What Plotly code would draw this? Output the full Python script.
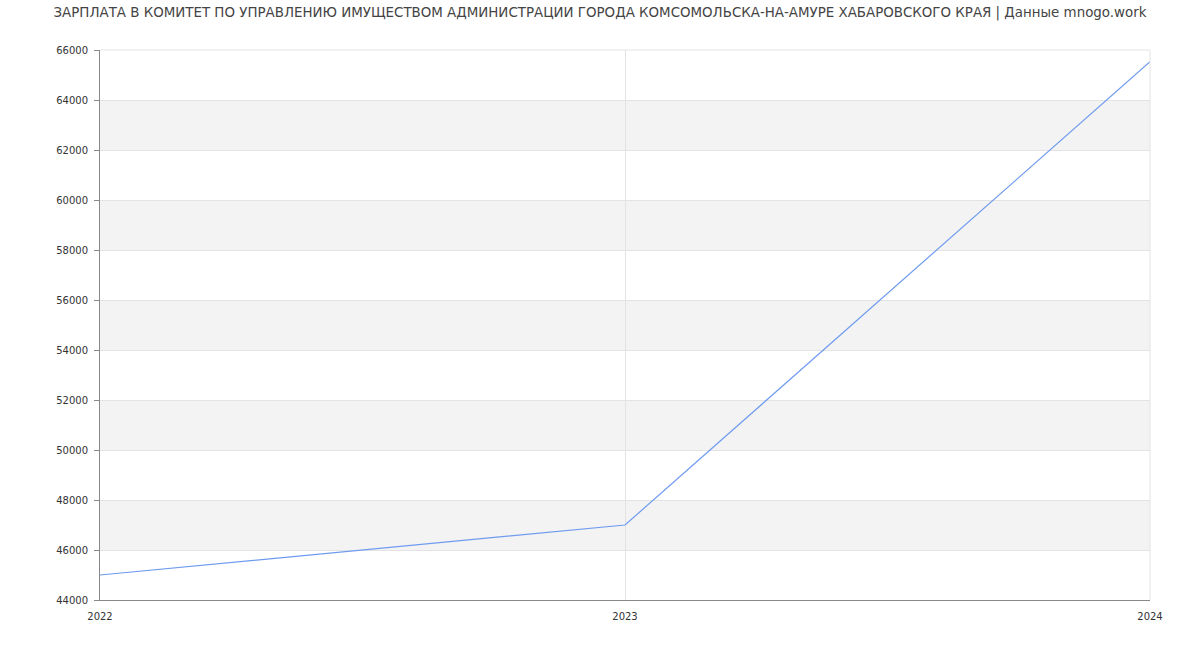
import plotly.graph_objects as go

years = [2022, 2023, 2024]
salaries = [45000, 47000, 65530]
y_ticks = list(range(44000, 66001, 2000))
title = "ЗАРПЛАТА В КОМИТЕТ ПО УПРАВЛЕНИЮ ИМУЩЕСТВОМ АДМИНИСТРАЦИИ ГОРОДА КОМСОМОЛЬСКА-НА-АМУРЕ ХАБАРОВСКОГО КРАЯ | Данные mnogo.work"

fig = go.Figure()
fig.add_trace(go.Scatter(x=years, y=salaries, mode="lines",
                         line=dict(color="#6f9bef", width=1.2), hoverinfo="x+y"))

shapes = []
for i in range(len(y_ticks) - 1):
    if i % 2 == 1:
        shapes.append(dict(type="rect", xref="paper", yref="y", x0=0, x1=1,
                           y0=y_ticks[i], y1=y_ticks[i + 1],
                           fillcolor="#f3f3f3", line=dict(width=0), layer="below"))
fig.update_layout(
    width=1200, height=650,
    margin=dict(l=100, r=50, t=50, b=50),
    paper_bgcolor="white", plot_bgcolor="white",
    shapes=shapes,
    showlegend=False,
    font=dict(family="DejaVu Sans", color="#333"),
    title=dict(text=title, x=0.5, xanchor="center", y=1 - 12 / 650, yanchor="middle",
               font=dict(size=13.4, color="#444", family="DejaVu Sans")),
    xaxis=dict(range=[2022, 2024], tickvals=years, ticktext=[str(y) for y in years],
               showgrid=True, gridcolor="#e3e3e3", gridwidth=1,
               showline=True, linecolor="#888", linewidth=1,
               ticks="outside", ticklen=7, tickcolor="rgba(0,0,0,0)",
               tickfont=dict(size=10, color="#333"), zeroline=False,
               mirror=False),
    yaxis=dict(range=[44000, 66000], tickvals=y_ticks, ticktext=[str(v) for v in y_ticks],
               showgrid=True, gridcolor="#e3e3e3", gridwidth=1,
               showline=True, linecolor="#888", linewidth=1,
               ticks="outside", ticklen=5, tickcolor="#888", ticklabelstandoff=4,
               tickfont=dict(size=10, color="#333"), zeroline=False),
)
fig.add_shape(type="line", xref="paper", yref="paper", x0=0, x1=1, y0=1, y1=1,
              line=dict(color="#e3e3e3", width=1))
fig.add_shape(type="line", xref="paper", yref="paper", x0=1, x1=1, y0=0, y1=1,
              line=dict(color="#e3e3e3", width=1))
fig.write_html("out.html")
